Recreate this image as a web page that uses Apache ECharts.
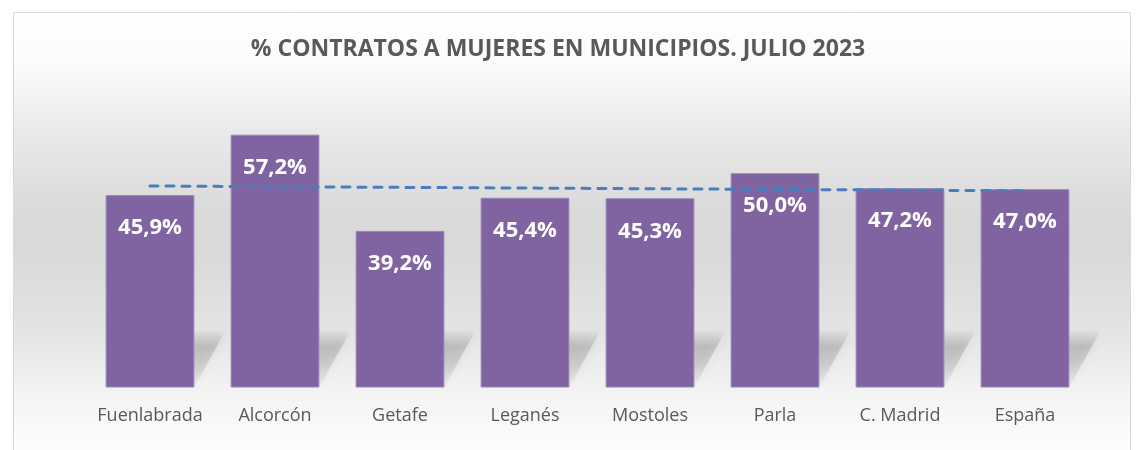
<!DOCTYPE html>
<html>
<head>
<meta charset="utf-8">
<script src="https://cdn.jsdelivr.net/npm/echarts@6/dist/echarts.min.js"></script>
<style>
  html, body { margin: 0; padding: 0; background: #ffffff; }
  #chart { width: 1141px; height: 450px; }
</style>
</head>
<body>
<div id="chart"></div>
<script>
// datos
const categories = ['Fuenlabrada', 'Alcorcón', 'Getafe', 'Leganés', 'Mostoles', 'Parla', 'C. Madrid', 'España'];
const womenShare = [45.9, 57.2, 39.2, 45.4, 45.3, 50.0, 47.2, 47.0];
// línea de tendencia: valor en la primera y en la última categoría
const trendEnds = [47.6, 46.7];

const AXIS_MIN = 10;
const BAR_RATIO = 0.71;

const fmt = v => v.toFixed(1).replace('.', ',') + '%';

const chart = echarts.init(document.getElementById('chart'));

// sombra en perspectiva bajo cada barra
function renderShadow(params, api) {
    const base = api.coord([api.value(0), AXIS_MIN]);
    const w = api.size([1, 0])[0] * BAR_RATIO;
    const x0 = base[0] - w / 2;
    const x1 = base[0] + w / 2;
    const dx = 32, h = 58;
    return {
        type: 'polygon',
        shape: {
            points: [[x0, base[1]], [x1, base[1]], [x1 + dx, base[1] - h], [x0 + dx, base[1] - h]]
        },
        style: {
            fill: {
                type: 'linear', x: 0, y: 0, x2: 0, y2: 1,
                colorStops: [
                    { offset: 0, color: 'rgba(150,150,150,0)' },
                    { offset: 0.3, color: 'rgba(150,150,150,0.42)' },
                    { offset: 0.6, color: 'rgba(150,150,150,0.3)' },
                    { offset: 1, color: 'rgba(150,150,150,0.06)' }
                ]
            },
            shadowBlur: 10,
            shadowColor: 'rgba(150,150,150,0.5)'
        }
    };
}

chart.setOption({
    animation: false,
    graphic: {
        elements: [{
            type: 'rect',
            z: -10,
            shape: { x: 13.5, y: 12.5, width: 1117, height: 450 },
            style: {
                fill: {
                    type: 'linear', x: 0, y: 0, x2: 0, y2: 1,
                    colorStops: [
                        { offset: 0, color: '#ffffff' },
                        { offset: 0.11, color: '#fbfbfb' },
                        { offset: 0.24, color: '#ececec' },
                        { offset: 0.44, color: '#dadada' },
                        { offset: 0.53, color: '#d9d9d9' },
                        { offset: 0.71, color: '#e4e4e4' },
                        { offset: 0.83, color: '#f2f2f2' },
                        { offset: 0.96, color: '#fcfcfc' },
                        { offset: 1, color: '#ffffff' }
                    ]
                },
                stroke: '#d9d9d9',
                lineWidth: 1
            }
        }]
    },
    title: {
        text: '% CONTRATOS A MUJERES EN MUNICIPIOS. JULIO 2023',
        left: 553,
        top: 33,
        textAlign: 'center',
        textStyle: {
            fontFamily: 'Open Sans',
            fontWeight: 'bold',
            fontSize: 23,
            color: '#595959'
        }
    },
    grid: { left: 87.5, right: 53.5, top: 119.7, bottom: 63 },
    xAxis: {
        type: 'category',
        data: categories,
        axisLine: { show: false },
        axisTick: { show: false },
        axisLabel: {
            interval: 0,
            fontFamily: 'Open Sans',
            fontSize: 18,
            color: '#595959',
            margin: 20
        }
    },
    yAxis: {
        type: 'value',
        min: AXIS_MIN,
        max: 60,
        show: false,
        splitLine: { show: false }
    },
    series: [
        {
            type: 'custom',
            renderItem: renderShadow,
            data: womenShare.map((v, i) => [i, v]),
            encode: { x: 0, y: 1 },
            z: 1,
            silent: true
        },
        {
            type: 'bar',
            data: womenShare,
            barCategoryGap: '29%',
            z: 3,
            itemStyle: {
                color: '#8064a2',
                borderColor: '#9a84b8',
                borderWidth: 1
            },
            label: {
                show: true,
                position: 'insideTop',
                distance: 22,
                formatter: p => fmt(p.value),
                fontFamily: 'Open Sans',
                fontWeight: 'bold',
                fontSize: 22,
                color: '#ffffff'
            },
            markLine: {
                silent: true,
                symbol: 'none',
                label: { show: false },
                lineStyle: {
                    color: '#4a7ebb',
                    width: 3,
                    type: [8, 8],
                    cap: 'round'
                },
                data: [[
                    { coord: [0, trendEnds[0]] },
                    { coord: [categories.length - 1, trendEnds[1]] }
                ]]
            }
        }
    ]
});
</script>
</body>
</html>
